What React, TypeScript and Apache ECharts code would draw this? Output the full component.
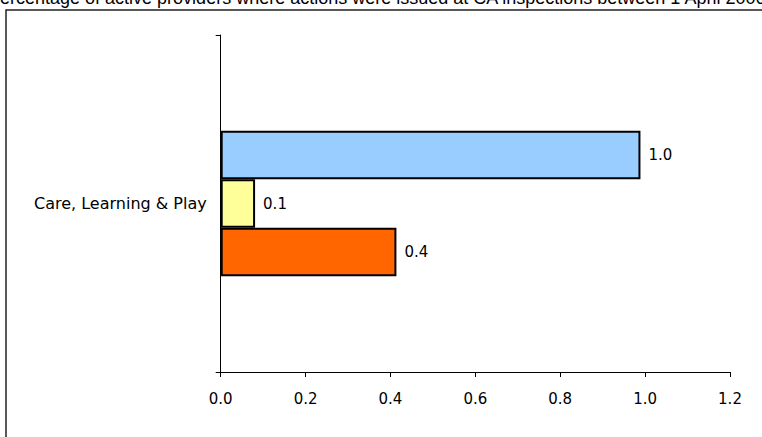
import React, { useEffect, useRef } from "react";
import * as echarts from "echarts";

const categories = ["Care, Learning & Play"];
const seriesNames = ["Series A", "Series B", "Series C"];
const seriesValues = [[0.989], [0.081], [0.414]];
const seriesColors = ["#99CCFF", "#FFFF99", "#FF6600"];
const titleText =
  "Percentage of active providers where actions were issued at CA inspections between 1 April 2006 and 31 March 2007";

export default function App() {
  const ref = useRef<HTMLDivElement>(null);
  useEffect(() => {
    if (!ref.current) return;
    const chart = echarts.init(ref.current, null, { renderer: "svg" });
    const font = "DejaVu Sans";
    chart.setOption({
      animation: false,
      backgroundColor: "#ffffff",
      textStyle: { fontFamily: font },
      grid: { left: 220.7, right: 32, top: 35, bottom: 65, containLabel: false },
      xAxis: {
        type: "value",
        min: 0,
        max: 1.2,
        interval: 0.2,
        axisLine: { show: true, lineStyle: { color: "#000", width: 1 } },
        axisTick: { show: true, length: 5, lineStyle: { color: "#000" } },
        splitLine: { show: false },
        axisLabel: {
          formatter: (v: number) => v.toFixed(1),
          color: "#000",
          fontSize: 15,
          fontFamily: font,
          margin: 19,
        },
      },
      yAxis: {
        type: "category",
        inverse: true,
        data: categories,
        axisLine: { show: true, lineStyle: { color: "#000", width: 1 } },
        axisTick: { show: true, length: 5, lineStyle: { color: "#000" } },
        axisLabel: { color: "#000", fontSize: 16, fontFamily: font, margin: 14 },
      },
      graphic: [
        {
          type: "rect",
          shape: { x: 6, y: 10, width: 800, height: 500 },
          style: { fill: "none", stroke: "#222", lineWidth: 1.5 },
          silent: true,
        },
        {
          type: "text",
          x: -12,
          y: 7,
          style: {
            text: titleText,
            fontSize: 18,
            fontFamily: "Liberation Sans",
            fill: "#000",
            textVerticalAlign: "bottom",
          },
        },
      ],
      series: seriesValues.map((vals, i) => ({
        name: seriesNames[i],
        type: "bar",
        data: vals,
        barWidth: 48.5,
        barGap: "0%",
        itemStyle: { color: seriesColors[i], borderColor: "#000", borderWidth: 2 },
        label: {
          show: true,
          position: "right",
          distance: 8,
          formatter: (p: any) => Number(p.value).toFixed(1),
          color: "#000",
          fontSize: 15,
          fontFamily: font,
        },
      })),
    });
    return () => chart.dispose();
  }, []);
  return (
    <div
      ref={ref}
      style={{ position: "absolute", left: 0, top: 0, width: 762, height: 437 }}
    />
  );
}
